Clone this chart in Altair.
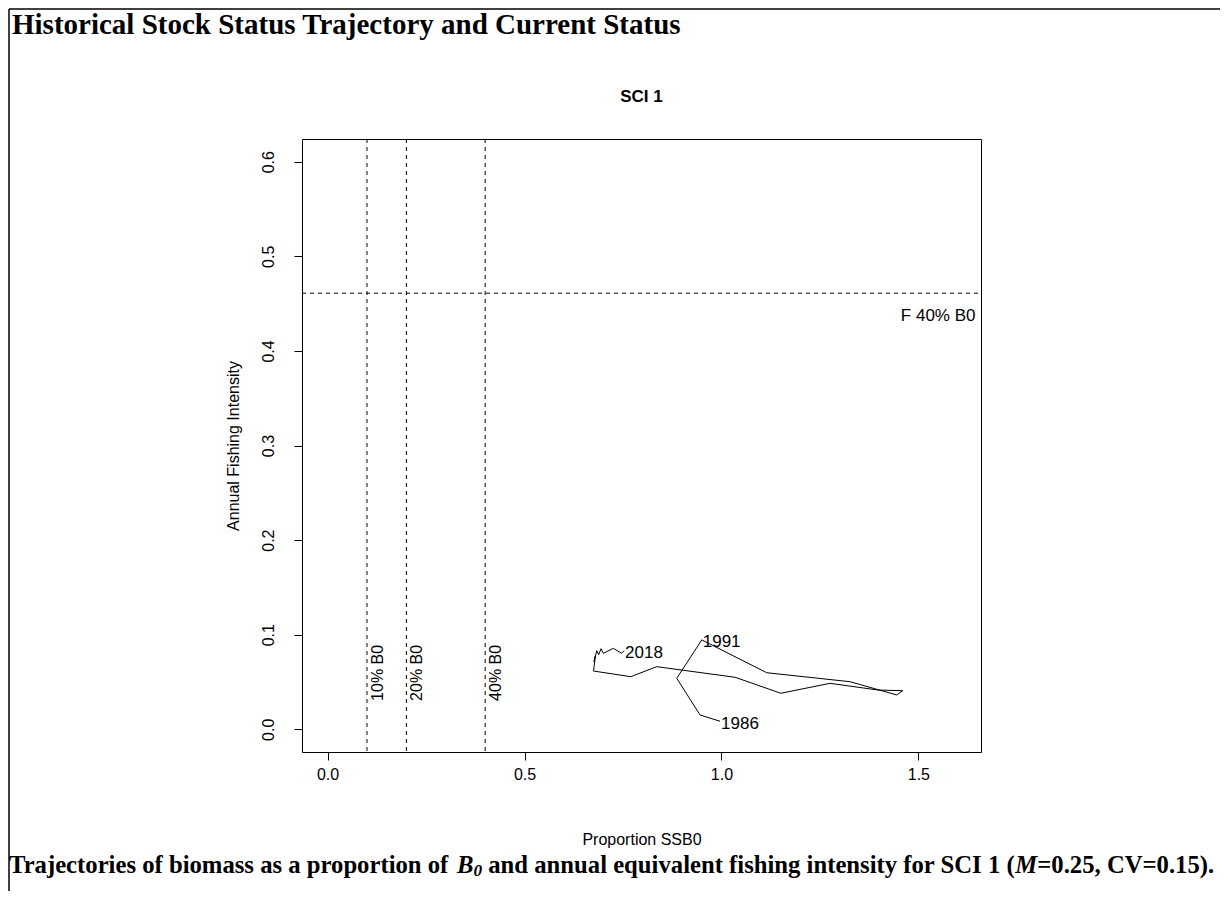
import altair as alt
import pandas as pd

# ---------------- data ----------------
step = list(range(24))
ssb0 = [0.9965, 0.9457, 0.8865, 0.950, 1.115, 1.3266, 1.445, 1.4604, 1.3977, 1.2757,
        1.1506, 1.0345, 0.8357, 0.7697, 0.6752, 0.6798, 0.6765, 0.6833, 0.6884, 0.6943,
        0.7001, 0.7255, 0.7468, 0.7527]
fishing = [0.0085, 0.0151, 0.0539, 0.0945, 0.0598, 0.0503, 0.0363, 0.0408, 0.0415, 0.0486,
           0.0381, 0.0550, 0.0662, 0.0556, 0.0616, 0.0775, 0.0715, 0.0831, 0.0789, 0.0852,
           0.0803, 0.0856, 0.0803, 0.0831]
year_label = ["1986", "", "", "1991"] + [""] * 19 + ["2018"]

ref_x = [0.1, 0.2, 0.4]
ref_x_label = ["10% B0", "20% B0", "40% B0"]
ref_x_label_y = [0.03, 0.03, 0.03]
f_ref = [0.461]
f_ref_label = ["F 40% B0"]
f_ref_label_pos = [(1.645, 0.437)]

x_ticks = [0.0, 0.5, 1.0, 1.5]
y_ticks = [0.0, 0.1, 0.2, 0.3, 0.4, 0.5, 0.6]
x_domain = [-0.065, 1.659]
y_domain = [-0.024, 0.624]

header = "Historical Stock Status Trajectory and Current Status"
plot_title = "SCI 1"
x_title = "Proportion SSB0"
y_title = "Annual Fishing Intensity"

# ---------------- layout ----------------
W, H = 679, 613
PAD_L, PAD_T = 294, 131
CANVAS_W, CANVAS_H = 1212, 883
PAD_R = CANVAS_W - PAD_L - W
PAD_B = CANVAS_H - PAD_T - H

SANS = "Liberation Sans"
SERIF = "Liberation Serif"
FS = 16
FS_ANN = 17

traj = pd.DataFrame({"step": step, "ssb": ssb0, "f": fishing, "year": year_label})
refs = pd.DataFrame({"x": ref_x, "label": ref_x_label, "y": ref_x_label_y})
fref = pd.DataFrame({"y": f_ref, "label": f_ref_label,
                     "lx": [p[0] for p in f_ref_label_pos], "ly": [p[1] for p in f_ref_label_pos]})
one = pd.DataFrame({"k": [0]})

xs = alt.Scale(domain=x_domain, nice=False, zero=False)
ys = alt.Scale(domain=y_domain, nice=False, zero=False)

xax = alt.Axis(values=x_ticks, format=".1f", title=x_title, tickSize=8, labelPadding=6,
               labelFlush=False, labelOverlap=False, titleY=87, titleBaseline="middle",
               titleAlign="center", titleX=W / 2)
yax = alt.Axis(values=y_ticks, format=".1f", title=y_title, tickSize=8, labelPadding=18,
               labelAngle=270, labelAlign="center", labelBaseline="bottom",
               labelFlush=False, labelOverlap=False,
               titleAngle=270, titleX=-69, titleY=H / 2, titleAlign="center",
               titleBaseline="middle")


def X(field):
    return alt.X(field, type="quantitative", scale=xs, axis=xax)


def Y(field):
    return alt.Y(field, type="quantitative", scale=ys, axis=yax)


line = alt.Chart(traj).mark_line(color="black", strokeWidth=1).encode(
    x=X("ssb"), y=Y("f"), order="step:Q")

years = alt.Chart(traj).transform_filter("datum.year != ''").mark_text(
    align="left", baseline="middle", dx=1, dy=2.5, font=SANS, fontSize=FS_ANN, color="black"
).encode(x=X("ssb"), y=Y("f"), text="year:N")

vrules = alt.Chart(refs).mark_rule(color="black", strokeWidth=1, strokeDash=[4, 4]).encode(
    x=X("x"), y=alt.value(0), y2=alt.value(H))

vtext = alt.Chart(refs).mark_text(
    angle=270, align="left", baseline="top", dy=3, font=SANS, fontSize=FS, color="black"
).encode(x=X("x"), y=Y("y"), text="label:N")

hrule = alt.Chart(fref).mark_rule(color="black", strokeWidth=1, strokeDash=[4, 4]).encode(
    y=Y("y"), x=alt.value(0), x2=alt.value(W))

htext = alt.Chart(fref).mark_text(
    align="right", baseline="middle", font=SANS, fontSize=FS_ANN, color="black"
).encode(x=X("lx"), y=Y("ly"), text="label:N")

title_txt = alt.Chart(one).mark_text(
    align="center", baseline="middle", font=SANS, fontSize=17, fontWeight="bold", color="black"
).encode(x=alt.value(W / 2), y=alt.value(-42), text=alt.value(plot_title))

header_txt = alt.Chart(one).mark_text(
    align="left", baseline="alphabetic", font=SERIF, fontSize=29, fontWeight="bold", color="black"
).encode(x=alt.value(12 - 8 - PAD_L), y=alt.value(34 - 8 - PAD_T), text=alt.value(header))

# caption in segments (bold, with bold-italic B0 and M)
CAP_FS = 24.7
cap_y = 866 - 8 - PAD_T
cap_x0 = 1 - PAD_L
segments = [
    # text, start offset (Times units / 1000 em), italic, size factor, dy
    ("Trajectories of biomass as a proportion of", 0, False, 1.0, 0),
    ("B", 18137, True, 1.0, 0),
    ("0", 18804, True, 0.7, 5),
    ("and annual equivalent fishing intensity for SCI 1 (", 19154 + 250, False, 1.0, 0),
    ("M", 19154 + 21587, True, 1.0, 0),
    ("=0.25, CV=0.15).", 19154 + 21587 + 889, False, 1.0, 0),
]
cap_layers = []
for txt, off, ital, sz, dy in segments:
    cap_layers.append(
        alt.Chart(one).mark_text(
            align="left", baseline="middle", font=SERIF, fontSize=CAP_FS * sz,
            fontWeight="bold", fontStyle="italic" if ital else "normal", color="black", dy=dy
        ).encode(x=alt.value(cap_x0 + off * CAP_FS / 1000.0), y=alt.value(cap_y), text=alt.value(txt))
    )

frame_left = alt.Chart(one).mark_rule(color="black", strokeWidth=1.5).encode(
    x=alt.value(-PAD_L + 1), y=alt.value(-PAD_T + 1), y2=alt.value(H + PAD_B))
frame_top = alt.Chart(one).mark_rule(color="black", strokeWidth=1.5).encode(
    x=alt.value(-PAD_L + 1), x2=alt.value(W + PAD_R), y=alt.value(-PAD_T + 1))

chart = alt.layer(
    vrules, hrule, line, years, vtext, htext, title_txt, header_txt, *cap_layers,
    frame_left, frame_top
).properties(
    width=W, height=H,
    padding={"left": PAD_L, "top": PAD_T, "right": PAD_R, "bottom": PAD_B},
    autosize=alt.AutoSizeParams(type="none"),
    background="white",
).configure_view(
    stroke="black", strokeWidth=1
).configure_axis(
    domain=False, grid=False, tickColor="black", tickWidth=1, labelColor="black",
    titleColor="black", labelFont=SANS, titleFont=SANS, labelFontSize=FS, titleFontSize=FS,
    titleFontWeight="normal"
)

chart.save("out.html", embed_options={"renderer": "svg", "actions": False})
